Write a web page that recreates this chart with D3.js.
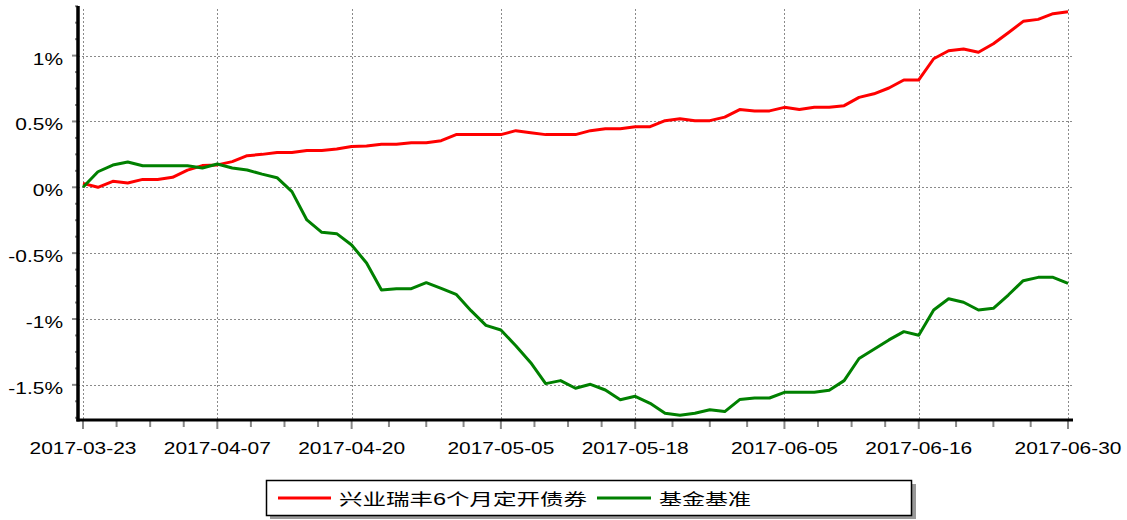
<!DOCTYPE html>
<html><head><meta charset="utf-8">
<script src="https://cdn.jsdelivr.net/npm/d3@7/dist/d3.min.js"></script>
<style>body{margin:0;background:#fff}svg{display:block}</style>
</head><body>
<svg id="c" width="1127" height="520"></svg>
<script>
const dates = ["2017-03-23","2017-03-24","2017-03-27","2017-03-28","2017-03-29","2017-03-30","2017-03-31","2017-04-05","2017-04-06","2017-04-07",
"2017-04-10","2017-04-11","2017-04-12","2017-04-13","2017-04-14","2017-04-17","2017-04-18","2017-04-19","2017-04-20","2017-04-21",
"2017-04-24","2017-04-25","2017-04-26","2017-04-27","2017-04-28","2017-05-02","2017-05-03","2017-05-04","2017-05-05","2017-05-08",
"2017-05-09","2017-05-10","2017-05-11","2017-05-12","2017-05-15","2017-05-16","2017-05-17","2017-05-18","2017-05-19","2017-05-22",
"2017-05-23","2017-05-24","2017-05-25","2017-05-26","2017-05-31","2017-06-01","2017-06-02","2017-06-05","2017-06-06","2017-06-07",
"2017-06-08","2017-06-09","2017-06-12","2017-06-13","2017-06-14","2017-06-15","2017-06-16","2017-06-19","2017-06-20","2017-06-21",
"2017-06-22","2017-06-23","2017-06-26","2017-06-27","2017-06-28","2017-06-29","2017-06-30"];
const fundValues = [0.03,0.00,0.045,0.033,0.06,0.06,0.076,0.13,0.165,0.17,
0.195,0.24,0.25,0.265,0.265,0.28,0.28,0.29,0.31,0.313,
0.326,0.326,0.339,0.339,0.354,0.40,0.40,0.40,0.40,0.43,
0.415,0.40,0.40,0.40,0.43,0.445,0.445,0.46,0.46,0.506,
0.52,0.506,0.506,0.533,0.59,0.58,0.58,0.607,0.59,0.607,
0.607,0.62,0.683,0.71,0.754,0.815,0.815,0.976,1.037,1.05,
1.025,1.09,1.174,1.26,1.275,1.318,1.333];
const benchValues = [0.0,0.118,0.169,0.192,0.164,0.164,0.164,0.164,0.147,0.177,
0.147,0.131,0.10,0.073,-0.033,-0.248,-0.342,-0.352,-0.438,-0.575,
-0.78,-0.77,-0.77,-0.724,-0.767,-0.813,-0.937,-1.048,-1.084,-1.203,
-1.332,-1.491,-1.468,-1.526,-1.496,-1.539,-1.613,-1.587,-1.64,-1.716,
-1.731,-1.716,-1.689,-1.703,-1.612,-1.60,-1.60,-1.557,-1.557,-1.557,
-1.541,-1.468,-1.30,-1.23,-1.159,-1.096,-1.124,-0.932,-0.846,-0.873,
-0.932,-0.919,-0.818,-0.709,-0.684,-0.684,-0.729];
const xTickLabels = ["2017-03-23","2017-04-07","2017-04-20","2017-05-05","2017-05-18","2017-06-05","2017-06-16","2017-06-30"];
const yTickValues = [-1.5,-1,-0.5,0,0.5,1];
const seriesNames = ["兴业瑞丰6个月定开债券","基金基准"];
const seriesColors = ["#ff0000","#008000"];

(function(){
const svg = d3.select("#c");
const x = d3.scalePoint().domain(dates).range([83,1068]);
const y = d3.scaleLinear().domain([-1.767,1.369]).range([420,7]);
const pL = 78, pR = 1072, pT = 7, pB = 420;
const SX = 1.23;
function stretch(sel){ sel.each(function(){ const w=this.getComputedTextLength(); d3.select(this).attr("textLength", w*SX).attr("lengthAdjust","spacingAndGlyphs"); }); }

// grid
const grid = svg.append("g").attr("stroke","#8a8a8a").attr("stroke-width",1).attr("stroke-dasharray","2,2");
grid.selectAll("line.h").data(yTickValues).join("line").attr("x1",pL).attr("x2",pR).attr("y1",d=>Math.round(y(d))+0.5).attr("y2",d=>Math.round(y(d))+0.5);
grid.selectAll("line.v").data(xTickLabels).join("line").attr("x1",d=>Math.round(x(d))+0.5).attr("x2",d=>Math.round(x(d))+0.5).attr("y1",9).attr("y2",pB);

// minor x ticks
const minorX = [];
for(let i=0;i<xTickLabels.length-1;i++){ const a=x(xTickLabels[i]), b=x(xTickLabels[i+1]); for(let k=1;k<4;k++) minorX.push(a+(b-a)*k/4); }
const ticks = svg.append("g").attr("stroke","#888").attr("stroke-width",2);
ticks.selectAll("line.mx").data(minorX).join("line").attr("x1",d=>d).attr("x2",d=>d).attr("y1",pB).attr("y2",pB+7);
ticks.selectAll("line.Mx").data(xTickLabels).join("line").attr("x1",d=>x(d)).attr("x2",d=>x(d)).attr("y1",pB).attr("y2",pB+9);
const minorY = d3.range(-1.75,1.376,0.125).filter(v=>Math.abs(v*2-Math.round(v*2))>1e-6);
ticks.selectAll("line.my").data(minorY).join("line").attr("x1",pL-3).attr("x2",pL).attr("y1",d=>y(d)).attr("y2",d=>y(d));
ticks.selectAll("line.My").data(yTickValues).join("line").attr("x1",pL-6).attr("x2",pL).attr("y1",d=>y(d)).attr("y2",d=>y(d));

// lines
const line = d3.line().x((d,i)=>x(dates[i])).y(d=>y(d));
[fundValues,benchValues].forEach((vals,k)=>{
  svg.append("path").datum(vals).attr("d",line).attr("fill","none").attr("stroke",seriesColors[k]).attr("stroke-width",3).attr("stroke-linejoin","round");
});

// axes
svg.append("line").attr("x1",pL).attr("x2",pL).attr("y1",pT-1).attr("y2",pB+1.5).attr("stroke","#000").attr("stroke-width",3.5);
svg.append("line").attr("x1",pL-1.5).attr("x2",1073).attr("y1",pB).attr("y2",pB).attr("stroke","#000").attr("stroke-width",3);

// labels
const font = "'Liberation Sans', Arial, sans-serif";
svg.append("g").selectAll("text").data(yTickValues).join("text")
  .attr("x",63).attr("y",d=>y(d)+9).attr("text-anchor","end")
  .attr("font-family",font).attr("font-size",17).attr("fill","#000")
  .text(d=>d+"%").call(stretch);
svg.append("g").selectAll("text").data(xTickLabels).join("text")
  .attr("x",d=>x(d)).attr("y",454).attr("text-anchor","middle")
  .attr("font-family",font).attr("font-size",17).attr("fill","#000")
  .text(d=>d).call(stretch);

// legend
const lg = svg.append("g");
lg.append("rect").attr("x",270).attr("y",484).attr("width",646).attr("height",35).attr("fill","#999");
lg.append("rect").attr("x",266.5).attr("y",480.5).attr("width",645).attr("height",35).attr("fill","#fff").attr("stroke","#000").attr("stroke-width",1.5);
const items = [{x1:278,x2:331,tx:339,tw:248},{x1:597,x2:651,tx:659,tw:92}];
items.forEach((it,k)=>{
  lg.append("line").attr("x1",it.x1).attr("x2",it.x2).attr("y1",498).attr("y2",498).attr("stroke",seriesColors[k]).attr("stroke-width",3);
  lg.append("text").attr("x",it.tx).attr("y",505).attr("font-family","'Liberation Sans','Noto Sans CJK SC',sans-serif").attr("font-size",16)
    .attr("fill","#000").attr("textLength",it.tw).attr("lengthAdjust","spacingAndGlyphs").text(seriesNames[k]);
});
})();
</script>
</body></html>
